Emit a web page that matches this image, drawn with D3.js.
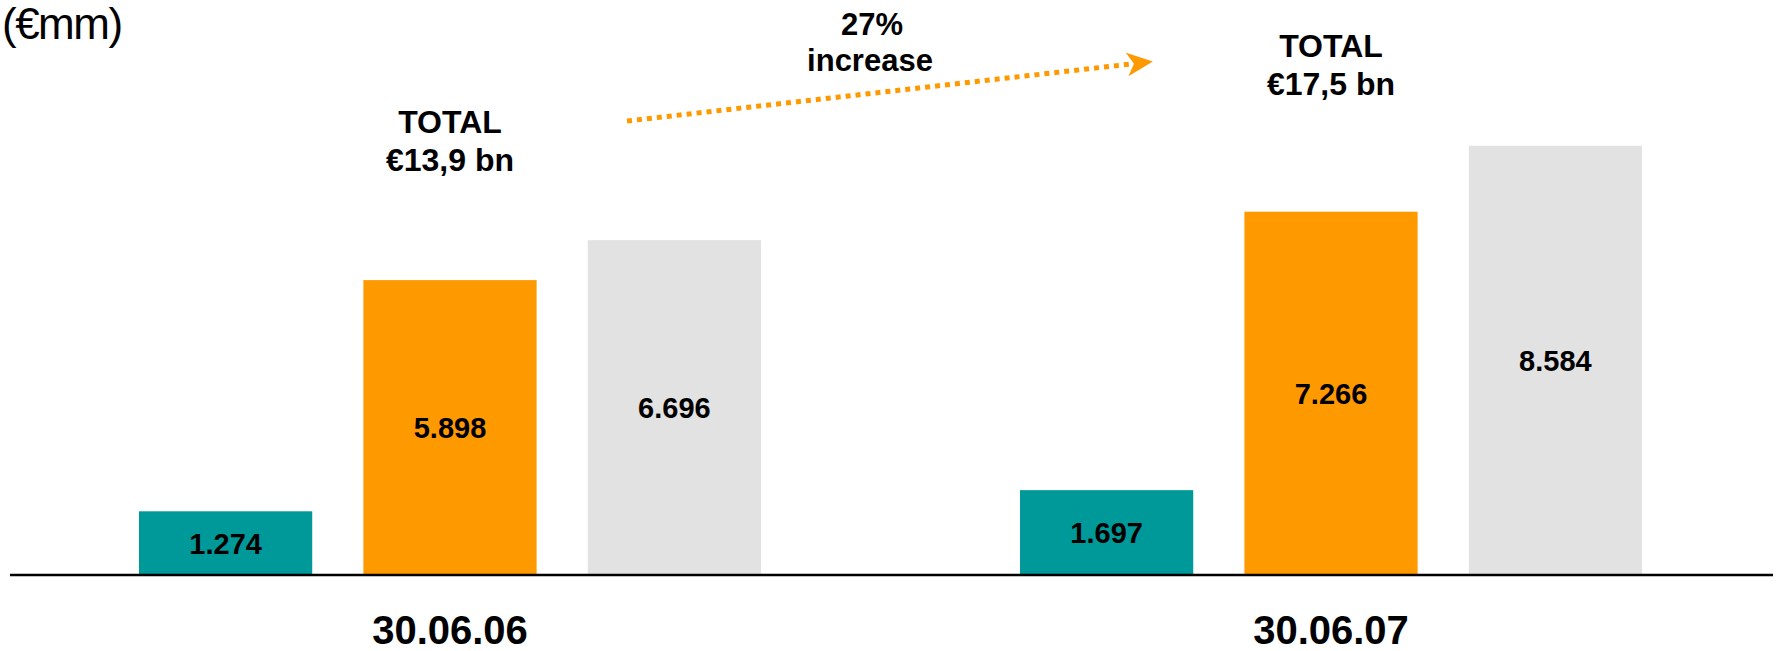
<!DOCTYPE html>
<html>
<head>
<meta charset="utf-8">
<script src="https://cdn.jsdelivr.net/npm/d3@7"></script>
<style>
  html, body { margin: 0; padding: 0; background: #fff; }
  svg { display: block; font-family: "Liberation Sans", Arial, sans-serif; }
</style>
</head>
<body>
<svg id="chart" width="1780" height="651"></svg>
<script>
// Reporting dates (category axis)
const dates = ["30.06.06", "30.06.07"];
// Three series per date, values in €mm
const seriesKeys = ["a", "b", "c"];
const seriesA = [1274, 1697];
const seriesB = [5898, 7266];
const seriesC = [6696, 8584];
// Headline totals shown above each group
const totalLabels = ["€13,9 bn", "€17,5 bn"];
const growthLabel = ["27%", "increase"];
const unitLabel = "(€mm)";

const colors = { a: "#009999", b: "#FF9900", c: "#E2E2E2" };

const svg = d3.select("#chart");
const baseY = 575;

const locale = d3.formatLocale({ decimal: ",", thousands: ".", grouping: [3], currency: ["€", ""] });
const fmt = locale.format(",d");

const x0 = d3.scaleBand().domain(dates).range([139, 1642]).paddingInner(0.294).paddingOuter(0);
const x1 = d3.scaleBand().domain(seriesKeys).range([0, x0.bandwidth()]).paddingInner(0.228).paddingOuter(0);
const y = d3.scaleLinear().domain([0, 11500]).range([baseY, 0]);

const rows = dates.map((d, i) => ({
  date: d,
  total: totalLabels[i],
  values: [
    { key: "a", v: seriesA[i] },
    { key: "b", v: seriesB[i] },
    { key: "c", v: seriesC[i] }
  ]
}));

const groups = svg.selectAll("g.group").data(rows).join("g")
  .attr("class", "group")
  .attr("transform", d => `translate(${x0(d.date)},0)`);

groups.selectAll("rect").data(d => d.values).join("rect")
  .attr("x", d => x1(d.key))
  .attr("y", d => y(d.v))
  .attr("width", x1.bandwidth())
  .attr("height", d => y(0) - y(d.v))
  .attr("fill", d => colors[d.key]);

groups.selectAll("text.val").data(d => d.values).join("text")
  .attr("class", "val")
  .attr("x", d => x1(d.key) + x1.bandwidth() / 2)
  .attr("y", d => (y(d.v) + y(0)) / 2)
  .attr("dy", "0.36em")
  .attr("text-anchor", "middle")
  .attr("font-size", 29)
  .attr("font-weight", "bold")
  .attr("fill", "#000")
  .text(d => fmt(d.v));

// Totals, centred over the middle bar of each group
const totalY = [133, 57];
groups.each(function (d, i) {
  const cx = x1("b") + x1.bandwidth() / 2;
  const t = d3.select(this).append("text")
    .attr("text-anchor", "middle")
    .attr("font-size", 32)
    .attr("font-weight", "bold")
    .attr("fill", "#000");
  t.append("tspan").attr("x", cx).attr("y", totalY[i]).text("TOTAL");
  t.append("tspan").attr("x", cx).attr("y", totalY[i] + 38).text(d.total);
});

// Baseline
svg.append("line")
  .attr("x1", 10).attr("x2", 1773)
  .attr("y1", baseY).attr("y2", baseY)
  .attr("stroke", "#000").attr("stroke-width", 2.5);

// Category labels
const xAxis = d3.axisBottom(x0).tickSize(0).tickPadding(0);
const axisG = svg.append("g").attr("transform", `translate(0,${baseY})`).call(xAxis);
axisG.select(".domain").remove();
axisG.selectAll("text")
  .attr("y", 69)
  .attr("dy", 0)
  .attr("font-size", 40)
  .attr("font-weight", "bold")
  .attr("font-family", "Liberation Sans, Arial, sans-serif")
  .attr("fill", "#000");

// Unit label
svg.append("text")
  .attr("x", 2).attr("y", 39)
  .attr("font-size", 44)
  .attr("letter-spacing", -1.5)
  .attr("fill", "#000")
  .text(unitLabel);

// Growth arrow
const defs = svg.append("defs");
defs.append("marker")
  .attr("id", "arrowHead")
  .attr("viewBox", "0 0 26 26")
  .attr("refX", 4).attr("refY", 13)
  .attr("markerWidth", 26).attr("markerHeight", 26)
  .attr("markerUnits", "userSpaceOnUse")
  .attr("orient", "auto")
  .append("path")
  .attr("d", "M0,1 L26,13 L0,25 L7,13 Z")
  .attr("fill", "#FF9900");

svg.append("line")
  .attr("x1", 627).attr("y1", 121)
  .attr("x2", 1131).attr("y2", 64)
  .attr("stroke", "#FF9900")
  .attr("stroke-width", 5)
  .attr("stroke-dasharray", "5,5")
  .attr("marker-end", "url(#arrowHead)");

const g = svg.append("text")
  .attr("text-anchor", "middle")
  .attr("font-size", 31)
  .attr("font-weight", "bold")
  .attr("fill", "#000");
g.append("tspan").attr("x", 872).attr("y", 35).text(growthLabel[0]);
g.append("tspan").attr("x", 870).attr("y", 71).text(growthLabel[1]);
</script>
</body>
</html>
